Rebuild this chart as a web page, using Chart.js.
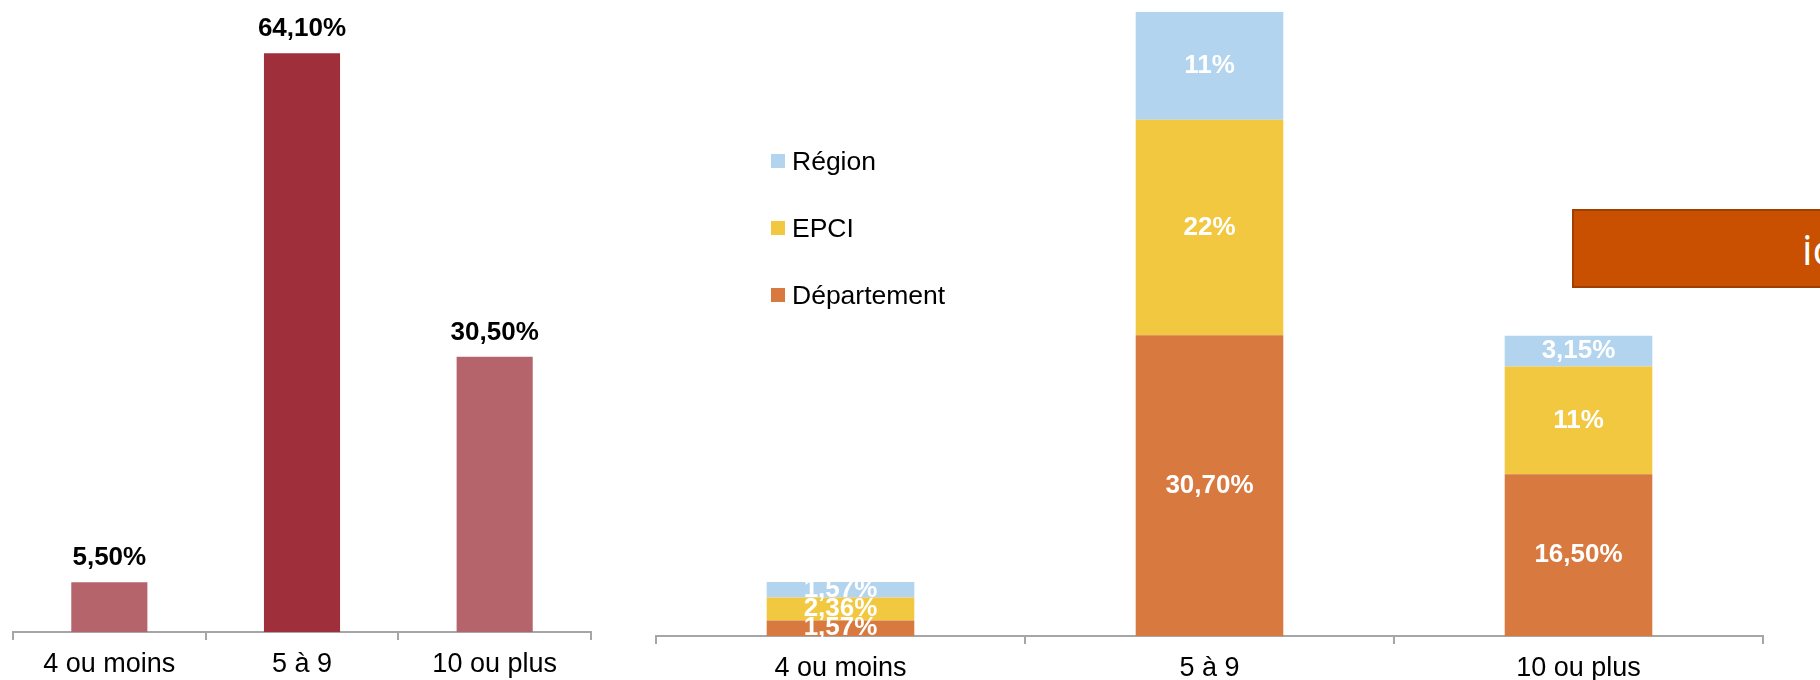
<!DOCTYPE html>
<html>
<head>
<meta charset="utf-8">
<script src="https://cdn.jsdelivr.net/npm/chart.js"></script>
<style>
  body { margin: 0; width: 1820px; height: 680px; overflow: hidden; background: #fff;
         font-family: "Liberation Sans", Arial, sans-serif; position: relative; }
  #gauche { position: absolute; left: 0; top: 0; width: 620px; height: 680px; }
  #droite { position: absolute; left: 620px; top: 0; width: 1200px; height: 680px; }
  #legende .item { position: absolute; left: 771px; height: 30px; display: flex; align-items: center;
                   font-size: 26.5px; color: #000; white-space: nowrap; }
  #legende .carre { width: 14px; height: 14px; margin-right: 7px; }
  #encadre { position: absolute; left: 1572px; top: 209px; width: 400px; height: 75px;
             background: #c85000; border: 2px solid #a04000; color: #fff;
             font-family: "Open Sans", sans-serif; font-size: 42px; line-height: 75px; }
  #encadre span { position: absolute; left: 228px; }
</style>
</head>
<body>
<div id="gauche"><canvas id="graphTaille"></canvas></div>
<div id="droite"><canvas id="graphCollectivite"></canvas></div>
<div id="legende"></div>
<div id="encadre"><span>ic</span></div>

<script>
// categories (nombre de ...)
const categories = ['4 ou moins', '5 à 9', '10 ou plus'];

// graphique de gauche
const partTotal = [5.5, 64.1, 30.5];

// graphique de droite, empilé
const series = ['Département', 'EPCI', 'Région'];
const partDepartement = [1.57, 30.7, 16.5];
const partEpci = [2.36, 22, 11];
const partRegion = [1.57, 11, 3.15];

const couleursGauche = ['#b6646b', '#9e2f3b', '#b6646b'];
const couleursSeries = ['#d87a40', '#f2c840', '#b3d4ee'];

const police = '"Liberation Sans", Arial, sans-serif';

function pourcent(v) {
    if (Number.isInteger(v)) return v + '%';
    return v.toFixed(2).replace('.', ',') + '%';
}

// les etiquettes de valeur (pas de plugin datalabels dispo)
const etiquettes = {
    id: 'etiquettes',
    afterDatasetsDraw(chart, args, opts) {
        const ctx = chart.ctx;
        ctx.save();
        ctx.font = 'bold 26px ' + police;
        ctx.textAlign = 'center';
        chart.data.datasets.forEach((ds, i) => {
            chart.getDatasetMeta(i).data.forEach((barre, j) => {
                const texte = pourcent(ds.data[j]);
                if (opts.dedans) {
                    ctx.fillStyle = '#fff';
                    ctx.textBaseline = 'middle';
                    ctx.fillText(texte, barre.x, (barre.y + barre.base) / 2);
                } else {
                    ctx.fillStyle = '#000';
                    ctx.textBaseline = 'alphabetic';
                    ctx.fillText(texte, barre.x, barre.y - 17);
                }
            });
        });
        ctx.restore();
    }
};

function axeX(hauteur, empile) {
    return {
        stacked: empile,
        offset: true,
        border: { display: true, color: '#a6a6a6', width: 2 },
        grid: { display: true, offset: true, drawOnChartArea: false, tickLength: 8, color: '#a6a6a6', lineWidth: 2 },
        ticks: { color: '#000', padding: 8, font: { family: police, size: 27 } },
        afterFit: (scale) => { scale.height = hauteur; }
    };
}

new Chart(document.getElementById('graphTaille'), {
    type: 'bar',
    data: {
        labels: categories,
        datasets: [{
            label: 'Total',
            data: partTotal,
            backgroundColor: couleursGauche,
            categoryPercentage: 1,
            barPercentage: 0.395
        }]
    },
    options: {
        responsive: true,
        maintainAspectRatio: false,
        animation: false,
        layout: { padding: { left: 13, right: 29, top: 0, bottom: 0 } },
        plugins: { legend: { display: false }, tooltip: { enabled: false }, etiquettes: { dedans: false } },
        scales: {
            x: axeX(48, false),
            y: { display: false, min: 0, max: 70 }
        }
    },
    plugins: [etiquettes]
});

new Chart(document.getElementById('graphCollectivite'), {
    type: 'bar',
    data: {
        labels: categories,
        datasets: [
            { label: series[0], data: partDepartement, backgroundColor: couleursSeries[0] },
            { label: series[1], data: partEpci, backgroundColor: couleursSeries[1] },
            { label: series[2], data: partRegion, backgroundColor: couleursSeries[2] }
        ].map(d => Object.assign(d, { categoryPercentage: 1, barPercentage: 0.4 }))
    },
    options: {
        responsive: true,
        maintainAspectRatio: false,
        animation: false,
        layout: { padding: { left: 36, right: 57, top: 9, bottom: 0 } },
        plugins: { legend: { display: false }, tooltip: { enabled: false }, etiquettes: { dedans: true } },
        scales: {
            x: axeX(44, true),
            y: { display: false, stacked: true, min: 0, max: 64 }
        }
    },
    plugins: [etiquettes]
});

// legende faite a la main, dans l'ordre inverse (Région en haut)
const legende = document.getElementById('legende');
const centres = [295, 228, 161];
series.forEach((nom, i) => {
    const item = document.createElement('div');
    item.className = 'item';
    item.style.top = (centres[i] - 15) + 'px';
    item.innerHTML = '<span class="carre" style="background:' + couleursSeries[i] + '"></span>' + nom;
    legende.appendChild(item);
});
</script>
</body>
</html>
